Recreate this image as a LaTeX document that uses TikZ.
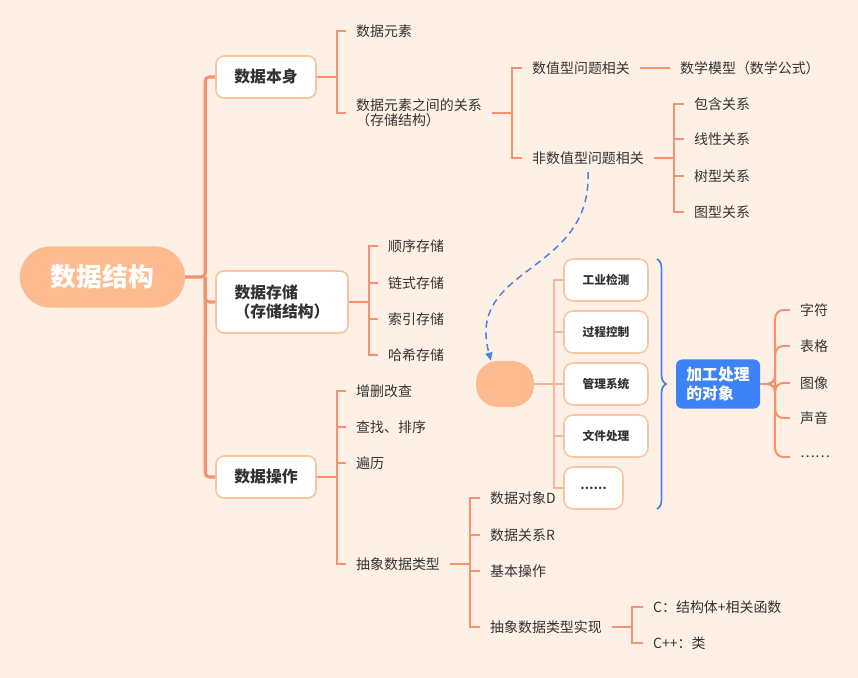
\documentclass[tikz,border=0pt]{standalone}
\usepackage{fontspec}
\setmainfont{Noto Sans CJK SC}
\usepackage{tikz}
\usetikzlibrary{arrows.meta,decorations.pathreplacing}
\definecolor{paper}{HTML}{FFF0E6}
\definecolor{branch}{HTML}{F4926F}
\definecolor{peach}{HTML}{FDBB8F}
\definecolor{rim}{HTML}{F9C4A0}
\definecolor{twig}{HTML}{F6B59C}
\definecolor{ink}{HTML}{333333}
\definecolor{accent}{HTML}{3D82F6}
\definecolor{dashblue}{HTML}{4A86E8}

\begin{document}
\begin{tikzpicture}[x=0.03cm,y=-0.03cm,font=\fontsize{11.9}{13}\selectfont,text=ink,
  leaf/.style={anchor=west,inner xsep=0.3cm,inner ysep=2pt,align=left},
  topic/.style={draw=rim,line width=1.4pt,fill=white,rounded corners=0.24cm,
    font=\fontsize{13.5}{16}\selectfont\bfseries,minimum width=3cm,minimum height=1.26cm},
  card/.style={draw=rim,line width=1.3pt,fill=white,rounded corners=0.27cm,
    font=\fontsize{10}{12}\selectfont\bfseries,minimum width=2.52cm,minimum height=1.26cm},
  br/.style={draw=branch,line width=1.7pt},
  trunk/.style={draw=branch,line width=2.6pt,rounded corners=0.12cm},
  twigline/.style={draw=twig,line width=1.3pt},
  brc/.style={draw=dashblue,line width=1.5pt,decorate,decoration={brace,amplitude=0.27cm}},
  dasharr/.style={draw=dashblue,line width=1.3pt,dash pattern=on 6pt off 4pt,
    -{Triangle[length=7pt,width=6pt]}}]
\path[use as bounding box,fill=paper] (0,0) rectangle (858,678);

\node[fill=peach,text=white,rounded corners=0.9cm,minimum width=4.95cm,minimum height=1.83cm,
  font=\fontsize{22}{24}\selectfont\bfseries] (root) at (102.5,277) {数据结构};

\node[topic] (shen) at (266,77) {数据本身};
\node[topic,minimum width=3.96cm,minimum height=1.86cm,align=left] (cun) at (282,302) {数据存储\\（存储结构）};
\node[topic] (cao) at (266,477) {数据操作};
\draw[trunk] (root.east) -- ++(20,0) |- (shen.west);
\draw[trunk] (root.east) ++(20,0) |- (cun.west);
\draw[trunk] (root.east) ++(20,0) |- (cao.west);

\node[leaf] (yuansu) at (346,31) {数据元素};
\node[leaf] (guanxi) at (346,113) {数据元素之间的关系\\（存储结构）};
\foreach \c in {yuansu,guanxi} \draw[br] (shen.east) -- ++(20,0) |- (\c.west);

\node[leaf] (shuzhi) at (522,68) {数值型问题相关};
\node[leaf] (feishu) at (522,158) {非数值型问题相关};
\foreach \c in {shuzhi,feishu} \draw[br] (guanxi.east) -- ++(20,0) |- (\c.west);
\node[leaf] (moxing) at (670,68) {数学模型（数学公式）};
\draw[br] (shuzhi.east) -- (moxing.west);

\node[leaf] (baohan) at (684,104) {包含关系};
\node[leaf] (xianxing) at (684,139) {线性关系};
\node[leaf] (shuxing) at (684,176) {树型关系};
\node[leaf] (tuxing) at (684,212) {图型关系};
\foreach \c in {baohan,xianxing,shuxing,tuxing} \draw[br] (feishu.east) -- ++(20,0) |- (\c.west);

\node[leaf] (shunxu) at (378,246) {顺序存储};
\node[leaf] (lianshi) at (378,283) {链式存储};
\node[leaf] (suoyin) at (378,319) {索引存储};
\node[leaf] (haxi) at (378,355) {哈希存储};
\foreach \c in {shunxu,lianshi,suoyin,haxi} \draw[br] (cun.east) -- ++(20,0) |- (\c.west);

\node[leaf] (zengshan) at (346,391) {增删改查};
\node[leaf] (chazhao) at (346,427) {查找、排序};
\node[leaf] (bianli) at (346,463) {遍历};
\node[leaf] (chouxiang) at (346,564) {抽象数据类型};
\foreach \c in {zengshan,chazhao,bianli,chouxiang} \draw[br] (cao.east) -- ++(20,0) |- (\c.west);

\node[leaf] (duixiangD) at (480,498) {数据对象D};
\node[leaf] (guanxiR) at (480,535) {数据关系R};
\node[leaf] (jiben) at (480,571) {基本操作};
\node[leaf] (shixian) at (480,627) {抽象数据类型实现};
\foreach \c in {duixiangD,guanxiR,jiben,shixian} \draw[br] (chouxiang.east) -- ++(20,0) |- (\c.west);

\node[leaf] (cjiegou) at (643,607) {C：结构体+相关函数};
\node[leaf] (cpp) at (643,643) {C++：类};
\foreach \c in {cjiegou,cpp} \draw[br] (shixian.east) -- ++(20,0) |- (\c.west);

\node[fill=peach,rounded corners=0.65cm,minimum width=1.74cm,minimum height=1.38cm] (blank) at (505,384) {};
\node[card] (gongye) at (606,280) {工业检测};
\node[card] (guocheng) at (606,332) {过程控制};
\node[card] (guanli) at (606,384) {管理系统};
\node[card] (wenjian) at (606,436) {文件处理};
\node[card,minimum width=1.77cm] (gengduo) at (593.5,488) {……};
\foreach \c in {gongye,guocheng,guanli,wenjian,gengduo} \draw[twigline] (blank.east) -- ++(20,0) |- (\c.west);

\draw[dasharr] ([yshift=-0.15cm]feishu.south) .. controls (592,275) and (465,265) .. ([xshift=-0.42cm]blank.north);

\coordinate (bracetop) at (657,259);
\coordinate (bracebot) at (657,509);
\draw[brc] (bracetop) -- (bracebot);

\node[fill=accent,text=white,rounded corners=0.18cm,minimum width=2.52cm,minimum height=1.47cm,
  align=left,font=\fontsize{13.5}{17}\selectfont\bfseries] (obj) at (718,384) {加工处理\\的对象};

\node[leaf] (zifu) at (790,310) {字符};
\node[leaf] (biaoge) at (790,346) {表格};
\node[leaf] (tuxiang) at (790,383) {图像};
\node[leaf] (shengyin) at (790,418) {声音};
\node[leaf] (more) at (790,457) {……};
\foreach \c in {zifu,biaoge,tuxiang,shengyin,more} \draw[br,rounded corners=0.24cm] (obj.east) -- ++(15,0) |- (\c.west);
\end{tikzpicture}
\end{document}
